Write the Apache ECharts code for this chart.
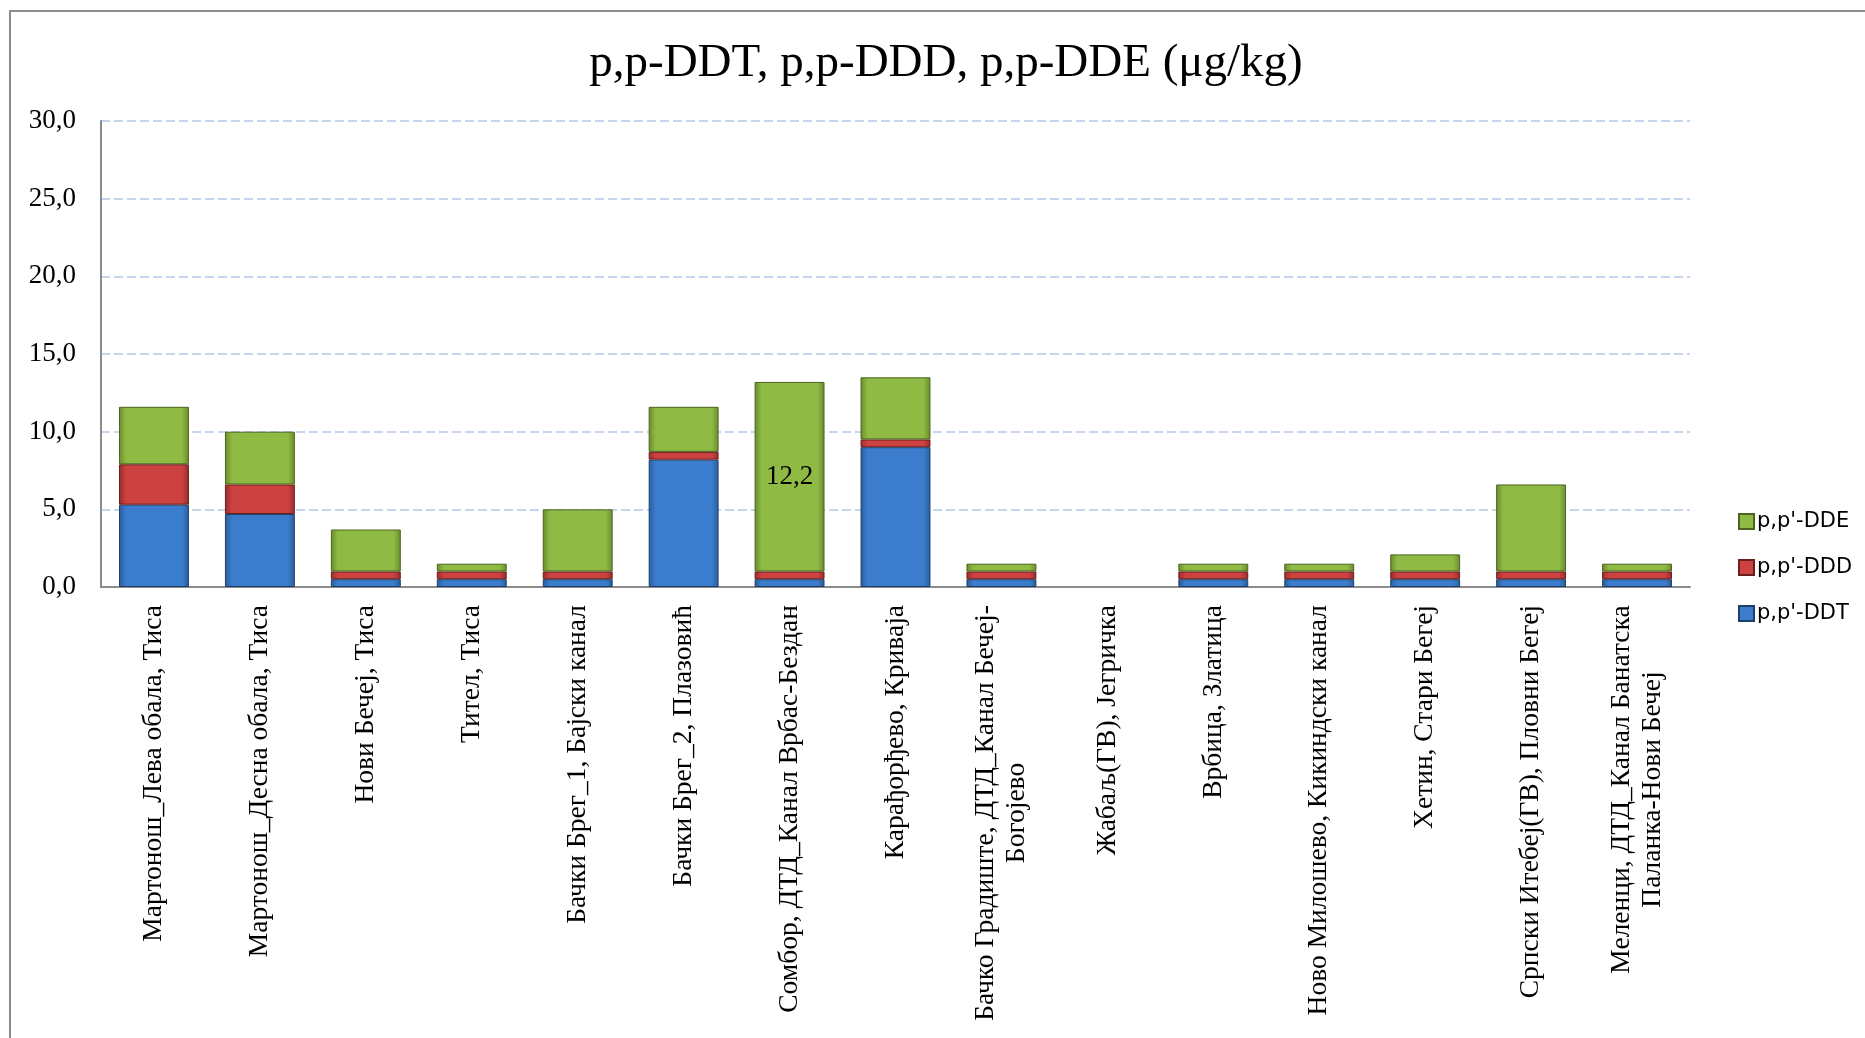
<!DOCTYPE html>
<html>
<head>
<meta charset="utf-8">
<script src="https://cdn.jsdelivr.net/npm/echarts@6/dist/echarts.min.js"></script>
<style>
html,body{margin:0;padding:0;background:#fff;}
#chart{width:1865px;height:1038px;}
</style>
</head>
<body>
<div id="chart"></div>
<script>
// ---- data ----
const titleText = 'p,p-DDT, p,p-DDD, p,p-DDE (μg/kg)';
const categories = [
  'Мартонош_Лева обала, Тиса',
  'Мартонош_Десна обала, Тиса',
  'Нови Бечеј, Тиса',
  'Тител, Тиса',
  'Бачки Брег_1, Бајски канал',
  'Бачки Брег_2, Плазовић',
  'Сомбор, ДТД_Канал Врбас-Бездан',
  'Карађорђево, Криваја',
  'Бачко Градиште, ДТД_Канал Бечеј-\nБогојево',
  'Жабаљ(ГВ), Јегричка',
  'Врбица, Златица',
  'Ново Милошево, Кикиндски канал',
  'Хетин, Стари Бегеј',
  'Српски Итебеј(ГВ), Пловни Бегеј',
  'Меленци, ДТД_Канал Банатска\nПаланка-Нови Бечеј'
];
const seriesNames = ["p,p'-DDT", "p,p'-DDD", "p,p'-DDE"];
const ddt = [5.3, 4.7, 0.5, 0.5, 0.5, 8.2, 0.5, 9.0, 0.5, null, 0.5, 0.5, 0.5, 0.5, 0.5];
const ddd = [2.6, 1.9, 0.5, 0.5, 0.5, 0.5, 0.5, 0.5, 0.5, null, 0.5, 0.5, 0.5, 0.5, 0.5];
const dde = [3.7, 3.4, 2.7, 0.5, 4.0, 2.9, 12.2, 4.0, 0.5, null, 0.5, 0.5, 1.1, 5.6, 0.5];
const ddeLabelledIndex = [6];
const yTicks = { min: 0, max: 30, interval: 5 };

// ---- styling helpers ----
const serif = 'Liberation Serif';
const xFontSize = 27.5;
const xLineHeight = 31;

function grad(edge, mid) {
  return new echarts.graphic.LinearGradient(0, 0, 1, 0, [
    { offset: 0, color: edge },
    { offset: 0.1, color: mid },
    { offset: 0.9, color: mid },
    { offset: 1, color: edge }
  ]);
}
const palette = [
  { fill: grad('#2a5c9c', '#3b7dcc'), border: '#1f3f6a' },
  { fill: grad('#982c2c', '#cc4240'), border: '#6a1e1e' },
  { fill: grad('#6a8b2c', '#8fba44'), border: '#4c6420' }
];

// measure multi-line labels to center their lines
const ctx = document.createElement('canvas').getContext('2d');
ctx.font = xFontSize + 'px "' + serif + '"';
const rich = {};
const richKeyByIndex = {};
categories.forEach(function (c, i) {
  if (c.indexOf('\n') >= 0) {
    const w = Math.max.apply(null, c.split('\n').map(function (l) { return ctx.measureText(l).width; }));
    const key = 'c' + i;
    rich[key] = { width: Math.ceil(w), align: 'center', fontFamily: serif, fontSize: xFontSize, lineHeight: xLineHeight, color: '#000' };
    richKeyByIndex[c] = key;
  }
});

const valueLists = [ddt, ddd, dde];
const series = valueLists.map(function (vals, si) {
  return {
    name: seriesNames[si],
    type: 'bar',
    stack: 'total',
    barWidth: '66%',
    itemStyle: { color: palette[si].fill, borderColor: palette[si].border, borderWidth: 1 },
    label: {
      show: false,
      position: 'inside',
      fontFamily: serif,
      fontSize: 27,
      color: '#000',
      formatter: function (p) { return String(p.value).replace('.', ','); }
    },
    data: vals.map(function (v, i) {
      if (si === 2 && ddeLabelledIndex.indexOf(i) >= 0) {
        return { value: v, label: { show: true } };
      }
      return v;
    })
  };
});

const chart = echarts.init(document.getElementById('chart'));
chart.setOption({
  animation: false,
  backgroundColor: '#fff',
  title: {
    text: titleText,
    left: 941,
    top: 35,
    textAlign: 'center',
    textStyle: { fontFamily: serif, fontSize: 47, fontWeight: 'normal', color: '#000' }
  },
  legend: {
    orient: 'vertical',
    left: 1733,
    top: 506,
    itemWidth: 15,
    itemHeight: 15,
    itemGap: 25,
    icon: 'rect',
    data: [seriesNames[2], seriesNames[1], seriesNames[0]],
    textStyle: { fontFamily: 'DejaVu Sans', fontSize: 21, color: '#000', padding: [0, 0, 0, -2] }
  },
  grid: { left: 101, right: 175, top: 121, bottom: 451, containLabel: false },
  xAxis: {
    type: 'category',
    data: categories,
    axisLine: { lineStyle: { color: '#8c8c8c', width: 2 } },
    axisTick: { show: false },
    axisLabel: {
      interval: 0,
      rotate: 90,
      margin: 18,
      fontFamily: serif,
      fontSize: xFontSize,
      lineHeight: xLineHeight,
      color: '#000',
      rich: rich,
      formatter: function (value) {
        const key = richKeyByIndex[value];
        if (!key) return value;
        return value.split('\n').map(function (l) { return '{' + key + '|' + l + '}'; }).join('\n');
      }
    }
  },
  yAxis: {
    type: 'value',
    min: yTicks.min,
    max: yTicks.max,
    interval: yTicks.interval,
    axisLine: { show: true, lineStyle: { color: '#8c8c8c', width: 2 } },
    axisTick: { show: false },
    splitLine: { lineStyle: { color: '#c6d6ee', width: 2, type: [9, 4] } },
    axisLabel: {
      margin: 25,
      fontFamily: serif,
      fontSize: 27,
      color: '#000',
      formatter: function (v) { return v.toFixed(1).replace('.', ','); }
    }
  },
  graphic: [{
    type: 'rect',
    shape: { x: 10, y: 11, width: 3000, height: 3000 },
    style: { fill: 'none', stroke: '#8c8c8c', lineWidth: 2 },
    silent: true,
    z: -1
  }],
  series: series
});
</script>
</body>
</html>
